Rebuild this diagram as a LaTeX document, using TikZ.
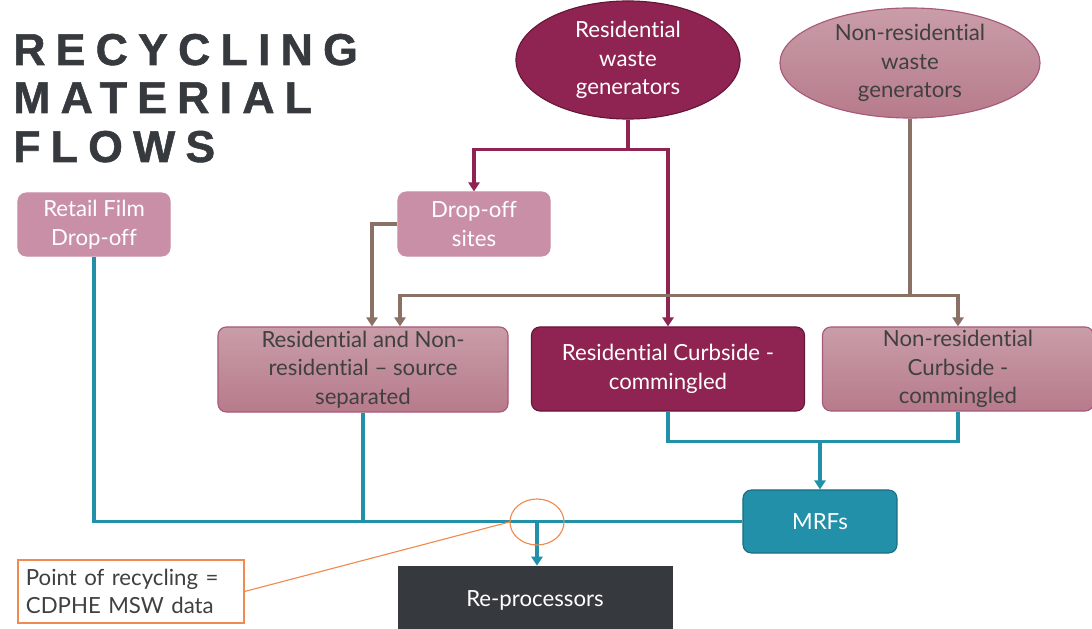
\documentclass[tikz,border=0pt]{standalone}
\usepackage{fontspec}
\setmainfont{Lato}[Ligatures=NoCommon]
\newfontfamily\titlefont[LetterSpace=23,FakeBold=1.2]{Liberation Sans Bold}
\usetikzlibrary{shapes.geometric, arrows.meta, positioning, calc}

\definecolor{wine}{HTML}{8F2351}
\definecolor{rosefill}{HTML}{C98FA7}
\definecolor{rosetop}{HTML}{C99DA8}
\definecolor{rosebot}{HTML}{B77B8B}
\definecolor{roseline}{HTML}{A8587A}
\definecolor{teal}{HTML}{2190A8}
\definecolor{tealdark}{HTML}{1A6F82}
\definecolor{slate}{HTML}{363A3E}
\definecolor{brownline}{HTML}{8A7165}
\definecolor{callout}{HTML}{F08A50}
\definecolor{darktext}{HTML}{404040}

\begin{document}
\begin{tikzpicture}[
    x=0.025cm, y=-0.025cm,
    font=\fontsize{15.8}{20.3}\selectfont,
    box/.style={draw, rectangle, rounded corners=6pt, align=center, inner sep=2pt, line width=0.8pt},
    pinkbox/.style={box, fill=rosefill, draw=rosefill, text=white},
    shadebox/.style={box, top color=rosetop, bottom color=rosebot, draw=roseline, text=darktext},
    winebox/.style={box, fill=wine, draw=wine!70!black, text=white},
    tealbox/.style={box, fill=teal, draw=tealdark, text=white},
    darkbox/.style={draw=slate, fill=slate, rectangle, align=center, text=white},
    gen/.style={ellipse, inner sep=0pt, align=center, line width=0.8pt},
    titlestyle/.style={anchor=base west, inner sep=0pt, text=slate, font=\titlefont\fontsize{31.7}{34}\selectfont},
    flow/.style={line width=2.2pt},
    arrow/.style={flow, -{Triangle[width=8pt,length=6.5pt]}}
]
\useasboundingbox (0,0) rectangle (1092,629);

% Title
\node[titlestyle] (title1) at (13,65) {RECYCLING};
\node[titlestyle] (title2) at (13,113) {MATERIAL};
\node[titlestyle] (title3) at (13,162) {FLOWS};

% Row 1: Waste generators
\node[gen, fill=wine, draw=wine!70!black, text=white, minimum width=5.6cm, minimum height=2.95cm] (reswaste) at (628,60) {Residential\\waste\\generators};
\node[gen, top color=rosetop, bottom color=rosebot, draw=roseline, text=darktext, minimum width=6.5cm, minimum height=2.75cm] (nonreswaste) at (910,63) {Non-residential\\waste\\generators};

% Row 2: Drop-off points
\node[pinkbox, minimum width=3.8cm, minimum height=1.575cm] (retail) at (94,224.5) {Retail Film\\Drop-off};
\node[pinkbox, minimum width=3.8cm, minimum height=1.6cm] (dropoff) at (474,224) {Drop-off\\sites};

% Row 3: Collection streams
\node[shadebox, minimum width=7.25cm, minimum height=2.125cm] (srcsep) at (363,369.5) {Residential and Non-\\residential -- source\\separated};
\node[winebox, minimum width=6.825cm, minimum height=2.1cm] (rescurb) at (668,369) {Residential Curbside -\\commingled};
\node[shadebox, minimum width=6.775cm, minimum height=2.1cm] (nonrescurb) at (958,369) {Non-residential\\Curbside -\\commingled};

% Row 4: Processing
\node[tealbox, minimum width=3.85cm, minimum height=1.575cm] (mrf) at (820,521.5) {MRFs};
\node[darkbox, minimum width=6.85cm, minimum height=1.7cm] (reproc) at (535,600) {Re-processors};

% Note
\node[draw=callout, fill=white, line width=0.8pt, rectangle, align=left, text=darktext, text width=5.25cm, minimum height=1.575cm, inner xsep=0.2cm] (note) at (131,591.5) {Point of recycling =\\CDPHE MSW data};

% Connections: residential generators
\draw[flow, wine] (reswaste.south) -- ++(0,30) coordinate (rj);
\draw[arrow, wine] (rj) -| (dropoff.north);
\draw[arrow, wine] (rj) -| (rescurb.north);

% Connections: non-residential generators
\draw[flow, brownline] (nonreswaste.south) -- ++(0,177) coordinate (nj);
\draw[arrow, brownline] (nj) -| ($(srcsep.north)+(37,0)$);
\draw[arrow, brownline] (nj) -| (nonrescurb.north);
\draw[arrow, brownline] (dropoff.west) -| ($(srcsep.north)+(9,0)$);

% Connections: to MRFs and re-processors
\draw[flow, teal] (rescurb.south) -- ++(0,30) coordinate (cj) -| (nonrescurb.south);
\draw[arrow, teal] (cj -| mrf.north) -- (mrf.north);
\draw[flow, teal] (retail.south) |- (mrf.west);
\draw[flow, teal] (srcsep.south) -- (srcsep.south |- mrf.west);
\draw[arrow, teal] ($(reproc.north |- mrf.west)+(2,0)$) -- ($(reproc.north)+(2,0)$);

% Point of recycling marker
\node[ellipse, draw=callout, line width=0.8pt, minimum width=1.35cm, minimum height=1.15cm, inner sep=0pt] (recpoint) at (537,522) {};
\draw[callout, line width=0.8pt] (note.east) -- (recpoint.west);

\end{tikzpicture}
\end{document}
